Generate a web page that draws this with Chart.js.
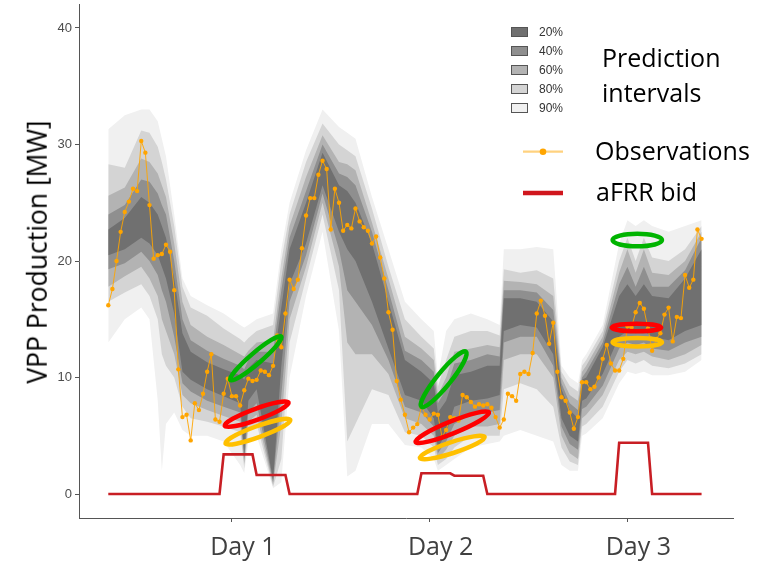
<!DOCTYPE html>
<html><head><meta charset="utf-8">
<script src="https://cdn.jsdelivr.net/npm/chart.js@4.4.1/dist/chart.umd.min.js"></script>
<style>
html,body{margin:0;padding:0;background:#fff;}
#wrap{position:relative;width:764px;height:563px;overflow:hidden;}
canvas{position:absolute;left:0;top:0;}
.t{position:absolute;white-space:nowrap;font-family:"Open Sans",sans-serif;color:#000;line-height:1;font-size:25px;}
.p{position:absolute;white-space:nowrap;font-family:"Liberation Sans",Arial,sans-serif;color:#333;line-height:1;font-size:12px;}
#ytitle{position:absolute;left:37px;top:252px;transform:translate(-50%,-50%) rotate(-90deg);white-space:nowrap;font-family:"Open Sans",sans-serif;font-size:26.5px;line-height:1;color:#000;}
</style></head><body>
<div id="wrap">
<canvas id="c" width="764" height="563"></canvas>
<div id="ytitle">VPP Production [MW]</div>
<div class="t" style="left:602px;top:45px;">Prediction</div>
<div class="t" style="left:602px;top:79.5px;">intervals</div>
<div class="t" style="left:595px;top:138.4px;">Observations</div>
<div class="t" style="left:596px;top:179.4px;">aFRR bid</div>
<div id="plabels"></div>
</div>
<script>
// ---------------- data ----------------
const dayLabels = ["Day 1", "Day 2", "Day 3"];
const dayTickPos = [30, 78, 126];          // half-hour index of each day tick
const yTickValues = [0, 10, 20, 30, 40];

// observations (half-hourly, index 0..144)
const observations = [
16.2, 17.6, 20.0, 22.5, 24.2, 25.1, 26.2, 26.0, 30.3, 29.3,
24.8, 20.2, 20.5, 20.6, 21.4, 20.8, 17.5, 10.7, 6.6, 6.8,
4.6, 7.8, 7.2, 8.6, 10.5, 12.0, 6.4, 6.2, 8.6, 9.9,
8.4, 8.4, 7.6, 8.9, 9.9, 9.7, 9.8, 10.6, 10.5, 10.2,
11.0, 13.6, 12.6, 15.5, 18.4, 17.6, 18.4, 21.1, 23.9, 25.4,
25.4, 27.4, 28.6, 27.9, 22.7, 26.2, 25.0, 22.6, 23.1, 22.8,
24.5, 23.4, 22.9, 22.6, 21.5, 22.1, 20.3, 18.5, 15.6, 14.1,
9.7, 8.1, 6.8, 5.3, 5.7, 6.0, 7.5, 6.8, 6.4, 6.9,
6.8, 4.9, 5.5, 6.6, 6.5, 6.3, 8.5, 8.3, 7.9, 7.5,
7.7, 7.6, 7.7, 7.4, 6.6, 5.7, 6.4, 8.6, 8.4, 8.0,
10.3, 10.5, 10.3, 12.1, 15.5, 16.6, 15.3, 12.9, 14.7, 10.5,
8.3, 8.0, 7.0, 5.6, 6.6, 9.6, 9.6, 9.0, 9.2, 10.0,
11.6, 12.8, 11.2, 10.6, 10.6, 11.6, 14.4, 14.3, 15.6, 16.4,
15.9, 14.2, 12.3, 13.3, 13.8, 15.4, 16.0, 13.1, 15.2, 15.1,
18.8, 17.7, 18.4, 22.7, 21.9
];

// aFRR bid (half-hourly, index 0..144)
const afrrBid = [
0,0,0,0,0,0,0,0,0,0, 0,0,0,0,0,0,0,0,0,0, 0,0,0,0,0,0,0,0,
3.4,3.4,3.4,3.4,3.4,3.4,3.4,3.4,
1.63,1.63,1.63,1.63,1.63,1.63,1.63,1.63,
0,0,0,0,0,0,0,0,0,0, 0,0,0,0,0,0,0,0,0,0, 0,0,0,0,0,0,0,0,0,0, 0,0,
1.78,1.78,1.78,1.78,1.78,1.78,1.78,1.78,
1.57,1.57,1.57,1.57,1.57,1.57,1.57,1.57,
0,0,0,0,0,0,0,0,0,0, 0,0,0,0,0,0,0,0,0,0, 0,0,0,0,0,0,0,0,0,0, 0,0,
4.4,4.4,4.4,4.4,4.4,4.4,4.4,4.4,
0,0,0,0,0,0,0,0,0,0, 0,0,0
];

// prediction interval bounds, sampled at these half-hour indices
const bandX = [0,4,8,10,12,13,14,16,18,20,24,28,32,33,34,36,40,42,44,48,52,56,58,60,64,68,72,76,79,80,82,84,88,92,95,96,100,104,108,110,112,114,115,116,120,124,126,128,130,132,136,140,144];
const lo90 = [13.0,15.0,16.0,15.0,8.0,2.0,6.0,7.0,5.5,5.0,5.0,4.5,2.5,1.8,4.5,5.0,0.5,1.0,10.0,17.0,22.5,14.0,1.5,2.0,6.0,6.0,4.2,4.0,3.0,2.0,2.5,3.0,4.0,4.3,4.5,5.0,5.5,5.0,4.5,2.5,2.0,2.0,5.0,5.2,6.5,9.5,10.5,10.3,10.5,10.2,10.2,10.5,11.5];
const lo80 = [16.5,17.3,18.0,17.0,15.0,12.0,11.0,10.0,7.5,6.5,6.2,5.8,5.3,2.2,5.5,6.0,0.6,3.0,13.0,18.5,24.0,17.5,4.5,6.0,9.0,8.5,5.3,5.0,4.0,2.5,3.0,4.0,5.0,5.0,5.0,9.0,9.5,9.0,7.5,4.0,2.8,2.5,5.8,6.0,7.5,10.5,11.5,11.2,11.5,11.0,10.8,11.2,12.0];
const lo60 = [17.8,18.7,19.5,18.5,17.0,15.0,14.0,12.0,8.5,7.8,7.2,6.7,6.2,2.6,6.2,6.8,0.8,6.0,15.0,19.5,25.0,19.5,13.0,12.0,12.0,10.3,6.5,6.0,5.0,3.0,3.8,5.0,5.8,5.8,6.0,11.5,12.0,12.0,10.0,5.0,3.5,3.0,6.5,6.8,8.5,11.5,12.2,12.0,12.2,11.8,11.5,12.0,12.8];
const lo40 = [19.3,19.8,20.8,20.0,18.8,17.5,16.5,13.5,9.5,8.8,8.0,7.5,7.0,3.0,7.0,7.8,1.0,8.5,16.5,20.5,25.8,21.0,17.5,16.5,14.5,11.5,7.5,7.0,5.8,3.5,4.5,6.0,6.8,7.0,7.2,13.0,13.5,13.5,11.0,5.8,4.3,3.8,7.3,7.5,9.3,12.5,13.0,12.8,13.0,12.5,12.3,13.0,13.5];
const lo20 = [20.5,21.0,22.0,21.5,20.5,19.5,18.5,15.5,10.5,9.8,9.0,8.4,7.8,3.5,8.0,9.0,1.2,11.0,18.0,21.5,26.5,22.5,21.0,20.0,16.5,12.5,8.5,8.0,6.5,4.0,5.2,7.5,8.0,8.2,8.5,14.0,14.5,14.3,12.0,6.5,5.0,4.5,8.0,8.2,10.3,13.5,14.0,13.8,14.0,13.5,13.2,14.0,14.5];
const hi20 = [22.7,23.7,25.5,25.0,24.0,23.0,22.0,18.5,13.8,12.2,11.3,10.7,10.2,9.8,10.8,11.5,11.2,16.0,21.0,25.0,29.3,26.5,26.0,25.0,21.5,16.5,11.5,10.5,9.5,7.0,8.0,10.2,10.5,11.0,11.0,16.8,16.8,16.5,14.8,9.0,7.2,6.5,9.8,10.0,12.6,17.0,18.0,17.0,18.0,17.0,16.8,18.5,21.0];
const hi40 = [24.0,24.8,27.0,26.8,25.8,24.8,24.0,20.0,15.0,13.2,12.3,11.6,11.0,10.7,11.5,12.2,12.2,17.5,22.0,26.0,30.0,27.5,27.2,26.5,22.5,17.5,12.3,11.5,10.5,7.8,9.0,11.2,11.5,12.0,11.8,17.5,17.5,17.3,15.8,9.5,7.8,7.2,10.0,10.5,13.0,18.0,19.5,17.8,19.5,17.8,17.8,19.2,22.0];
const hi60 = [25.6,26.3,28.8,28.5,27.5,26.5,25.5,21.5,16.5,14.5,13.5,12.8,12.0,11.8,12.3,13.0,13.2,18.5,23.0,27.2,30.8,28.5,28.3,27.8,23.3,18.5,13.5,12.5,11.5,8.5,10.0,12.2,12.5,12.8,12.6,18.3,18.2,18.0,17.0,10.0,8.5,8.0,10.5,11.0,13.5,19.0,21.0,19.0,21.0,19.0,18.8,20.0,22.5];
const hi80 = [28.3,28.0,31.2,31.0,29.8,28.5,27.0,23.0,17.8,16.0,15.3,14.2,13.3,13.0,13.4,14.0,14.5,20.0,24.0,28.5,31.8,30.0,29.5,29.0,24.5,19.5,15.0,13.5,12.5,9.2,11.5,13.5,14.0,14.0,13.6,19.3,19.0,19.2,18.5,10.5,9.3,8.8,11.0,11.5,14.0,20.0,22.0,20.0,22.0,20.3,20.0,21.0,23.0];
const hi90 = [31.3,32.5,33.0,33.0,32.0,30.5,29.0,24.0,18.5,17.0,16.2,15.5,14.5,14.3,14.5,15.0,15.5,21.0,25.0,29.5,33.0,31.5,31.0,30.5,25.5,21.0,16.5,15.0,14.0,10.0,14.0,15.0,15.5,15.0,14.5,21.0,21.0,21.2,21.0,11.0,10.0,9.5,11.5,12.0,14.5,21.5,23.5,23.0,23.5,23.0,22.5,23.0,23.5];

const intervalLabels = ["20%", "40%", "60%", "80%", "90%"];
const intervalColors = ["#707070", "#8f8f8f", "#b3b3b3", "#d4d4d4", "#f0f0f0"];

// annotation ellipses (centre in data units, half-axes in px, rotation in degrees)
const ellipses = [
  {x: 35.8,  y: 11.65, a: 33.5, b: 5.5, rot: 40.5, color: "#00b400"},
  {x: 36.0,  y: 6.85,  a: 34,   b: 5.5, rot: 20,   color: "#ff0000"},
  {x: 36.3,  y: 5.35,  a: 34.5, b: 5.5, rot: 20,   color: "#ffc000"},
  {x: 81.4,  y: 9.85,  a: 35.5, b: 7,   rot: 51,   color: "#00b400"},
  {x: 83.5,  y: 5.73,  a: 39.5, b: 6,   rot: 22,   color: "#ff0000"},
  {x: 83.5,  y: 3.99,  a: 34,   b: 5.5, rot: 18,   color: "#ffc000"},
  {x: 128.4, y: 21.8,  a: 24.7, b: 6.3, rot: 0,    color: "#00b400"},
  {x: 128.2, y: 14.29, a: 24.7, b: 3.8, rot: 0,    color: "#ff0000"},
  {x: 128.4, y: 13.02, a: 24.7, b: 4.2, rot: 0,    color: "#ffc000"}
];

// ---------------- build ----------------
const pts = arr => arr.map((v, i) => ({x: i, y: v}));
const bandPts = arr => arr.map((v, j) => ({x: bandX[j], y: v}));
const lows = [lo20, lo40, lo60, lo80, lo90];
const highs = [hi20, hi40, hi60, hi80, hi90];

const datasets = [
  {label: "Observations", data: pts(observations), borderColor: "rgba(255,165,0,0.9)", borderWidth: 1,
   pointRadius: 2.2, pointBackgroundColor: "#ffa500", pointBorderWidth: 0, fill: false, tension: 0},
  {label: "aFRR bid", data: pts(afrrBid), borderColor: "#c81e24", borderWidth: 2.6, pointRadius: 0, fill: false, tension: 0}
];
for (let k = 0; k < 5; k++) {
  datasets.push({label: intervalLabels[k] + " upper", data: bandPts(highs[k]), borderColor: "rgba(0,0,0,0)", borderWidth: 0,
    pointRadius: 0, fill: "+1", backgroundColor: intervalColors[k], tension: 0});
  datasets.push({label: intervalLabels[k] + " lower", data: bandPts(lows[k]), borderColor: "rgba(0,0,0,0)", borderWidth: 0,
    pointRadius: 0, fill: false, tension: 0});
}

const legendBoxX = 511.5;
const overlay = {
  id: "overlay",
  afterDatasetsDraw(chart) {
    const {ctx, scales: {x, y}} = chart;
    ctx.save();
    ellipses.forEach(e => {
      ctx.beginPath();
      ctx.ellipse(x.getPixelForValue(e.x), y.getPixelForValue(e.y), e.a, e.b, -e.rot * Math.PI / 180, 0, 2 * Math.PI);
      ctx.strokeStyle = e.color;
      ctx.lineWidth = 4.5;
      ctx.stroke();
    });
    ctx.restore();
  },
  afterDraw(chart) {
    const ctx = chart.ctx;
    ctx.save();
    intervalLabels.forEach((lab, k) => {
      const yc = 31.5 + 19 * k;
      ctx.fillStyle = intervalColors[k];
      ctx.fillRect(legendBoxX, Math.round(yc - 4.5) + 0.5, 16, 9);
      ctx.strokeStyle = "#555";
      ctx.lineWidth = 1;
      ctx.strokeRect(legendBoxX, Math.round(yc - 4.5) + 0.5, 16, 9);
    });
    ctx.strokeStyle = "#ffd27f";
    ctx.lineWidth = 2.2;
    ctx.beginPath(); ctx.moveTo(523, 151.7); ctx.lineTo(563, 151.7); ctx.stroke();
    ctx.fillStyle = "#ffa500";
    ctx.beginPath(); ctx.arc(543, 151.7, 3.3, 0, 2 * Math.PI); ctx.fill();
    ctx.strokeStyle = "#d0161d";
    ctx.lineWidth = 4.5;
    ctx.beginPath(); ctx.moveTo(523, 193); ctx.lineTo(563, 193); ctx.stroke();
    ctx.restore();
  }
};

const pl = document.getElementById("plabels");
intervalLabels.forEach((lab, k) => {
  const d = document.createElement("div");
  d.className = "p";
  d.style.left = "539px";
  d.style.top = (31.5 + 19 * k - 5.9) + "px";
  d.textContent = lab;
  pl.appendChild(d);
});

new Chart(document.getElementById("c"), {
  type: "line",
  data: {datasets},
  plugins: [overlay],
  options: {
    responsive: false,
    animation: false,
    layout: {padding: {left: 0, right: 31, top: 4, bottom: 0}},
    plugins: {legend: {display: false}, tooltip: {enabled: false}, filler: {propagate: false}},
    elements: {line: {tension: 0}},
    scales: {
      x: {
        type: "linear", min: -7.11, max: 151.63,
        afterFit: s => { s.height = 45; s.paddingLeft = 0; s.paddingRight = 0; },
        afterBuildTicks: s => { s.ticks = dayTickPos.map(v => ({value: v})); },
        ticks: {
          callback: v => { const k = dayTickPos.indexOf(v); return k >= 0 ? dayLabels[k] : ""; },
          font: {family: "Open Sans", size: 25}, color: "#404040", padding: 11, labelOffset: 11,
          maxRotation: 0, autoSkip: false
        },
        grid: {display: true, drawOnChartArea: false, drawTicks: true, tickLength: 4, color: "#555", lineWidth: 1},
        border: {display: true, color: "#555", width: 1}
      },
      y: {
        type: "linear", min: -2.06, max: 42.06,
        afterFit: s => { s.width = 79; s.paddingTop = 0; s.paddingBottom = 0; },
        afterBuildTicks: s => { s.ticks = yTickValues.map(v => ({value: v})); },
        ticks: {font: {family: "Liberation Sans", size: 13}, color: "#4d4d4d", padding: 3},
        grid: {display: true, drawOnChartArea: false, drawTicks: true, tickLength: 4, color: "#555", lineWidth: 1},
        border: {display: true, color: "#555", width: 1}
      }
    }
  }
});
</script>
</body></html>
